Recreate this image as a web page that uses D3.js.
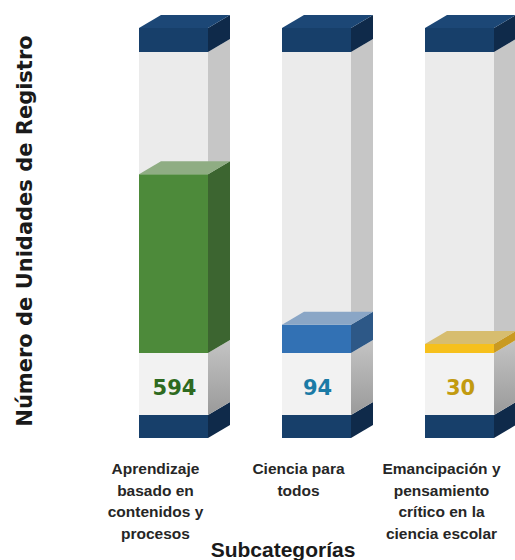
<!DOCTYPE html>
<html><head><meta charset="utf-8">
<script src="https://cdn.jsdelivr.net/npm/d3@7"></script>
<style>body{margin:0;background:#fff}svg{display:block}</style>
</head><body>
<svg id="c" width="515" height="560"></svg>
<script>
const categories = ["Aprendizaje basado en contenidos y procesos", "Ciencia para todos", "Emancipación y pensamiento crítico en la ciencia escolar"];
const labelLines = [["Aprendizaje","basado en","contenidos y","procesos"],["Ciencia para","todos"],["Emancipación y","pensamiento","crítico en la","ciencia escolar"]];
const values = [594, 94, 30];
const yDomainMax = 1000;
const fillColors = ["#4d8a3a","#3271b4","#f6c01c"];
const sideColors = ["#3c6530","#2d5887","#c99a22"];
const topColors  = ["#8fad83","#8aa6c6","#d7bd6f"];
const labelColors = ["#2e6a20","#1b7ba6","#c29b10"];

const svg = d3.select("#c");
const dx = 22, dy = 13;

const x = d3.scaleBand().domain(categories).range([67.5, 565.5]).paddingInner(0.5175).paddingOuter(0.5);
const y = d3.scaleLinear().domain([0, yDomainMax]).range([353, 52]);

const baseH = 23, labelH = 62, capH = 24;

function box(g, x0, w, yTop, yBot, front, side, top) {
  const x1 = x0 + w;
  g.append("path").attr("d", `M${x1},${yTop}L${x1+dx},${yTop-dy}L${x1+dx},${yBot-dy}L${x1},${yBot}Z`).attr("fill", side);
  g.append("rect").attr("x", x0).attr("y", yTop).attr("width", w).attr("height", yBot - yTop).attr("fill", front);
  if (top) g.append("path").attr("d", `M${x0},${yTop}L${x1},${yTop}L${x1+dx},${yTop-dy}L${x0+dx},${yTop-dy}Z`).attr("fill", top);
}

const defs = svg.append("defs");
const sg = defs.append("linearGradient").attr("id","whiteSide").attr("x1",0).attr("y1",0).attr("x2",0).attr("y2",1);
sg.append("stop").attr("offset","0%").attr("stop-color","#c4c4c4");
sg.append("stop").attr("offset","100%").attr("stop-color","#9a9a9a");

categories.forEach((c, i) => {
  const g = svg.append("g");
  const x0 = x(c), w = x.bandwidth();
  const y0 = y(0);
  box(g, x0, w, y0 + labelH, y0 + labelH + baseH, "#173f6a", "#0f2a4a", null);
  box(g, x0, w, y0, y0 + labelH, "#f2f2f2", "url(#whiteSide)", null);
  box(g, x0, w, y(yDomainMax), y(values[i]), "#ebebeb", "#c6c6c6", null);
  box(g, x0, w, y(values[i]), y0, fillColors[i], sideColors[i], topColors[i]);
  box(g, x0, w, y(yDomainMax) - capH, y(yDomainMax), "#173f6a", "#0f2a4a", "#1c4776");
  g.append("text").attr("x", x0 + w/2 + 1).attr("y", y0 + 42)
    .attr("text-anchor","middle").attr("font-family","DejaVu Sans, sans-serif")
    .attr("font-weight","bold").attr("font-size",21).attr("fill",labelColors[i]).text(values[i]);
  const t = svg.append("text").attr("text-anchor","middle")
    .attr("font-family","Liberation Sans, Arial, sans-serif").attr("font-weight","bold")
    .attr("font-size",15.5).attr("fill","#262626");
  labelLines[i].forEach((ln, k) => {
    t.append("tspan").attr("x", x0 + w/2 - 18).attr("y", 474 + k*21.5).text(ln);
  });
});

svg.append("text").attr("x", 283).attr("y", 557).attr("text-anchor","middle")
  .attr("font-family","Liberation Sans, Arial, sans-serif").attr("font-weight","bold")
  .attr("font-size",21).attr("fill","#1a1a1a").text("Subcategorías");

svg.append("text").attr("transform","translate(32,231) rotate(-90)").attr("text-anchor","middle")
  .attr("font-family","DejaVu Sans, sans-serif").attr("font-weight","bold")
  .attr("font-size",21).attr("fill","#1a1a1a").text("Número de Unidades de Registro");
</script>
</body></html>
